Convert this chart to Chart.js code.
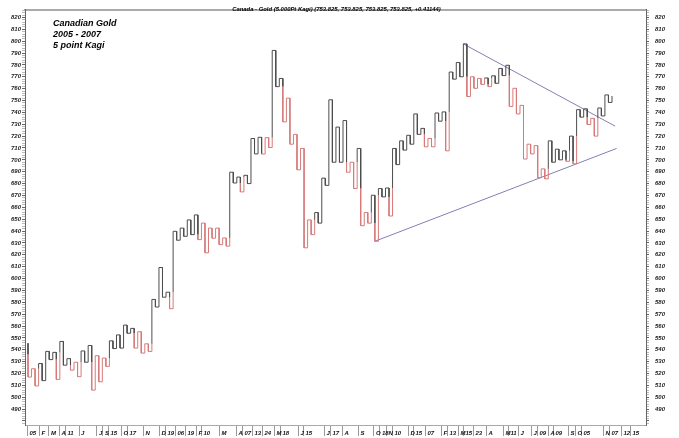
<!DOCTYPE html>
<html><head><meta charset="utf-8">
<script src="https://cdn.jsdelivr.net/npm/chart.js@4.4.0/dist/chart.umd.min.js"></script>
<style>
html,body{margin:0;padding:0;background:#fff;}
#wrap{position:relative;width:679px;height:438px;overflow:hidden;}
canvas{position:absolute;left:0;top:0;}
.t{position:absolute;font-family:"Liberation Sans",Arial,sans-serif;font-style:italic;font-weight:bold;color:#000;white-space:nowrap;}
#title{left:0;width:673px;top:6px;text-align:center;font-size:5.9px;line-height:6px;}
#note{left:53px;top:18px;font-size:9px;line-height:11px;}
</style></head><body>
<div id="wrap"><canvas id="c" width="679" height="438"></canvas>
<div class="t" id="title">Canada - Gold (5.000Pt Kagi) (753.825, 753.825, 753.825, 753.825, +0.41144)</div>
<div class="t" id="note">Canadian Gold<br>2005 - 2007<br>5 point Kagi</div>
</div>
<script>
// Kagi reversal values (start value, then end value of each vertical line)
const kagiValues = [
545.5, 517, 524, 509.5, 528.4, 514, 538.6, 531.7, 537.8, 515,
547, 527, 532.5, 522.8, 529.5, 517.3, 539, 529.5, 543.6, 506,
535, 513, 533, 526, 547.5, 541, 552.5, 541.4, 560.8, 553.9,
558, 541.4, 555.2, 537.2, 545, 538.6, 582.4, 576, 609.3, 584.3,
588.5, 574.6, 639.8, 632.3, 642.5, 635.6, 649.4, 637, 653.6, 632.8,
646.7, 621.7, 642.5, 634, 642.5, 628.6, 634.2, 627.3, 689.6, 680.5,
685.5, 673, 687, 680, 718, 705, 719, 704.9, 718.7, 710.4,
792.2, 761.7, 768.6, 732, 752, 713.2, 721.5, 691.6, 709.6, 625.9,
649.4, 637, 655.6, 646.7, 684.6, 678.5, 750.6, 698, 727.6, 698,
733.1, 689.6, 698, 675.8, 709.6, 644.5, 655.6, 646.7, 670.2, 631.4,
675.8, 668.8, 676.3, 652.7, 709.6, 696, 716, 708.2, 720.7, 713.2,
738.7, 721.5, 726.5, 711, 718, 711, 739.5, 732.6, 740.4, 707.6,
774, 768, 782, 770, 797.7, 753.4, 770, 760.3,
768.6, 763.6, 769, 761.7, 770.8, 764.5, 777, 771, 779.7, 745,
760.3, 738.7, 745.9, 700.7, 713.2, 705, 712, 685, 692.4, 684,
716, 698, 709, 700, 707.6, 698.8, 720, 696.6, 742.3, 736,
743, 729.8, 735, 720, 743.7, 737, 754.7, 748.4, 753.8
];
// prior shoulder / waist before the first line
const priorShoulder = 550;
const priorWaist = 536;

// trend lines: [column, price]
const resistanceLine = [[123, 797.7], [165.9, 728.4]];
const supportLine = [[98, 631.4], [166.3, 709.6]];

// x-axis date labels and the column where each starts
const xTickLabels = ["05","F","M","A","11","J","J","S","15","O","17","N","D","19","06","19","F","10","M","A","07","13","24","M","18","J","15","J","17","A","S","O","18","N","10","D","15","07","F","13","M","15","23","A","M","11","J","J","09","A","09","S","O","05","N","07","12","15"];
const xTickCols = [-0.14,3.25,5.93,8.90,10.59,14.41,19.49,21.19,22.74,26.41,28.11,32.63,37.15,38.84,41.67,44.49,47.60,49.01,54.10,58.90,60.59,63.42,66.24,69.63,71.33,76.41,77.82,83.76,85.45,88.84,93.36,97.74,99.44,101.27,102.97,107.49,108.90,112.29,116.81,118.50,121.61,123.02,125.85,129.52,134.32,135.73,138.56,142.23,143.93,147.03,148.45,152.68,154.66,156.36,162.57,164.27,167.66,170.20];

// price axis labels
const priceLabels = [490,500,510,520,530,540,550,560,570,580,590,600,610,620,630,640,650,660,670,680,690,700,710,720,730,740,750,760,770,780,790,800,810,820];

const YANG = '#4d4d4d', YIN = '#d77a7a';

function buildKagi(vals) {
  const pts = [], colors = [];
  let yang = true, lastHigh = priorShoulder, lastLow = priorWaist;
  const col = () => yang ? YANG : YIN;
  for (let k = 0; k < vals.length - 1; k++) {
    const a = vals[k], b = vals[k + 1];
    pts.push({x: k, y: a});
    if (b > a) {
      if (!yang && b > lastHigh) {
        if (a < lastHigh) { colors.push(col()); pts.push({x: k, y: lastHigh}); }
        yang = true;
      }
      colors.push(col());
      lastHigh = b;
    } else {
      if (yang && b < lastLow) {
        if (a > lastLow) { colors.push(col()); pts.push({x: k, y: lastLow}); }
        yang = false;
      }
      colors.push(col());
      lastLow = b;
    }
    pts.push({x: k, y: b});
    colors.push(col()); // horizontal to next column
  }
  pts.push({x: vals.length - 1, y: vals[vals.length - 1]});
  return {pts, colors};
}
const kagi = buildKagi(kagiValues);
kagi.pts.pop(); kagi.colors.pop();

const lastCol = kagiValues.length - 2;
const colPx = (612 - 28) / lastCol;
const xMin = -(28 - 25) / colPx;
const xMax = xMin + (646 - 25) / colPx;
const yMax = 826.6, yMin = 476.6;

const minorTicks = [];
for (let v = 478; v <= 826; v += 2) minorTicks.push({value: v});

const tickFont = {family: '"Liberation Sans", Arial, sans-serif', size: 6, style: 'italic', weight: 'bold'};

function yAxis(pos) {
  return {
    position: pos, min: yMin, max: yMax,
    afterBuildTicks: s => { s.ticks = minorTicks.map(t => ({value: t.value})); },
    afterFit: s => { s.width = pos === 'left' ? 25 : 33; },
    ticks: {
      autoSkip: false, font: tickFont, color: '#222',
      padding: pos === 'left' ? 1 : 6,
      callback: v => priceLabels.includes(v) ? String(v) : ''
    },
    grid: {
      drawOnChartArea: false, drawTicks: true, tickLength: 3,
      tickColor: c => (c.tick && c.tick.value % 10 === 0) ? '#666' : '#bbb'
    },
    border: {display: true, color: '#666', width: 1}
  };
}

new Chart(document.getElementById('c'), {
  type: 'line',
  data: {
    datasets: [
      {
        data: kagi.pts, borderWidth: 1, pointRadius: 0, tension: 0,
        borderColor: YANG,
        segment: { borderColor: c => kagi.colors[c.p0DataIndex] }
      },
      {
        data: resistanceLine.map(p => ({x: p[0], y: p[1]})),
        borderColor: '#8080b4', borderWidth: 1, pointRadius: 0
      },
      {
        data: supportLine.map(p => ({x: p[0], y: p[1]})),
        borderColor: '#8080b4', borderWidth: 1, pointRadius: 0
      }
    ]
  },
  options: {
    responsive: false, animation: false, devicePixelRatio: 1,
    layout: {padding: {top: 4, left: 0, right: 0, bottom: 0}},
    plugins: {legend: {display: false}, tooltip: {enabled: false}, title: {display: false}},
    scales: {
      x: {
        type: 'linear', position: 'bottom', min: xMin, max: xMax,
        afterBuildTicks: s => { s.ticks = xTickCols.map(v => ({value: v})); },
        afterFit: s => { s.height = 13; },
        ticks: {
          autoSkip: false, maxRotation: 0, minRotation: 0, align: 'start',
          labelOffset: 2, padding: -6, font: tickFont, color: '#111',
          callback: (v, i) => xTickLabels[i]
        },
        grid: {drawOnChartArea: false, drawTicks: true, tickLength: 11, tickColor: '#999'},
        border: {display: true, color: '#aaa', width: 1}
      },
      xTop: {
        type: 'linear', position: 'top', min: xMin, max: xMax,
        afterFit: s => { s.height = 0; },
        ticks: {display: false},
        grid: {drawOnChartArea: false, drawTicks: false},
        border: {display: true, color: '#aaa', width: 2}
      },
      y: yAxis('left'),
      y2: yAxis('right')
    }
  }
});
</script>
</body></html>
